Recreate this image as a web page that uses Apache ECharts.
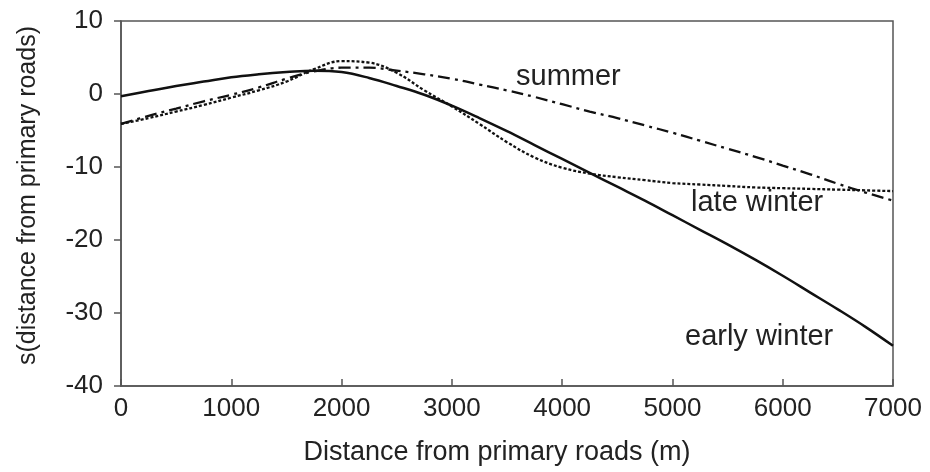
<!DOCTYPE html>
<html>
<head>
<meta charset="utf-8">
<script src="https://cdn.jsdelivr.net/npm/echarts@6/dist/echarts.min.js"></script>
<style>html,body{margin:0;padding:0;background:#fff}#c{width:930px;height:472px}</style>
</head>
<body>
<div id="c"></div>
<script>
const distance = [0,250,500,750,1000,1250,1500,1750,2000,2250,2500,2750,3000,3250,3500,3750,4000,4250,4500,4750,5000,5250,5500,5750,6000,6250,6500,6750,7000];
const earlyWinter = [-0.3,0.4,1.1,1.7,2.3,2.7,3.0,3.2,3.0,2.2,1.1,-0.1,-1.6,-3.3,-5.1,-7.0,-8.9,-10.8,-12.7,-14.6,-16.6,-18.6,-20.6,-22.7,-24.9,-27.2,-29.5,-31.9,-34.5];
const summer = [-4.1,-3.0,-2.0,-1.0,-0.1,0.9,2.1,3.1,3.6,3.6,3.2,2.7,2.1,1.3,0.5,-0.4,-1.4,-2.4,-3.3,-4.3,-5.3,-6.4,-7.5,-8.6,-9.8,-11.0,-12.3,-13.5,-14.6];
const lateWinter = [-4.1,-3.3,-2.4,-1.5,-0.5,0.5,1.7,3.4,4.5,4.3,2.9,0.5,-1.7,-4.1,-6.6,-8.7,-10.1,-10.9,-11.4,-11.8,-12.2,-12.4,-12.6,-12.8,-12.9,-13.0,-13.1,-13.2,-13.3];
const xTicks = [0,1000,2000,3000,4000,5000,6000,7000];
const yTicks = [-40,-30,-20,-10,0,10];
const seriesLabels = ['summer','late winter','early winter'];

const pair = ys => distance.map((x,i)=>[x, ys[i]]);
const font = '"Liberation Sans", Arial, sans-serif';
const txt = '#222';
const axisCol = '#555';

const chart = echarts.init(document.getElementById('c'), null, {renderer:'canvas'});
chart.setOption({
  animation:false,
  backgroundColor:'#fff',
  grid:{left:121, right:37, top:21, bottom:86, show:true, borderColor:axisCol, borderWidth:1.5, backgroundColor:'transparent'},
  xAxis:{
    type:'value', min:0, max:7000, interval:1000,
    name:'Distance from primary roads (m)', nameLocation:'middle', nameGap:53,
    nameTextStyle:{fontFamily:font, fontSize:27, color:txt, padding:[0,20,0,0]},
    axisLine:{show:true, onZero:false, lineStyle:{color:axisCol, width:1.5}},
    axisTick:{show:true, inside:true, length:7, lineStyle:{color:axisCol, width:1.5}},
    axisLabel:{fontFamily:font, fontSize:26, color:txt, margin:10, formatter:v=>xTicks.includes(v)?String(v):''},
    splitLine:{show:false}
  },
  yAxis:{
    type:'value', min:-40, max:10, interval:10,
    name:'s(distance from primary roads)', nameLocation:'middle', nameGap:80, nameRotate:90,
    nameTextStyle:{fontFamily:font, fontSize:25, color:txt, padding:[0,0,0,16]},
    axisLine:{show:true, onZero:false, lineStyle:{color:axisCol, width:1.5}},
    axisTick:{show:true, inside:false, length:7, lineStyle:{color:axisCol, width:1.5}},
    axisLabel:{fontFamily:font, fontSize:26, color:txt, margin:18, formatter:v=>yTicks.includes(v)?String(v):''},
    splitLine:{show:false}
  },
  series:[
    {name:seriesLabels[2], type:'line', data:pair(earlyWinter), smooth:0.4, symbol:'none', lineStyle:{color:'#111', width:2.5, type:'solid'}},
    {name:seriesLabels[0], type:'line', data:pair(summer), smooth:0.4, symbol:'none', lineStyle:{color:'#111', width:2.3, type:[12,5,3,5]}},
    {name:seriesLabels[1], type:'line', data:pair(lateWinter), smooth:0.4, symbol:'none', lineStyle:{color:'#111', width:2.3, type:[3,2]}}
  ],
  graphic:[
    {type:'text', x:516, y:77, style:{text:seriesLabels[0], font:'29px '+font, fill:txt, verticalAlign:'middle', align:'left'}},
    {type:'text', x:691, y:203, style:{text:seriesLabels[1], font:'29px '+font, fill:txt, verticalAlign:'middle', align:'left'}},
    {type:'text', x:685, y:337, style:{text:seriesLabels[2], font:'29px '+font, fill:txt, verticalAlign:'middle', align:'left'}}
  ]
});
</script>
</body>
</html>
